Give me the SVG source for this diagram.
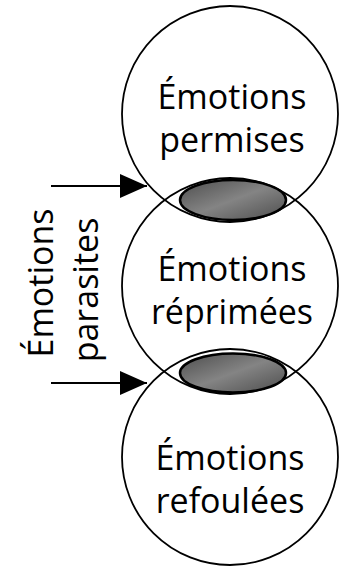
<svg xmlns="http://www.w3.org/2000/svg" width="339" height="567" viewBox="0 0 339 567">
<defs>
<style>
.c{fill:none;stroke:#000;stroke-width:1.8}
.e{fill:url(#g);stroke:#000;stroke-width:2.5}
.t{font-family:"Open Sans","DejaVu Sans",sans-serif;font-size:34px;fill:#000;text-anchor:middle}
.a{stroke:#000;stroke-width:2;fill:none}
</style>
<linearGradient id="g" x1="0" y1="0" x2="1" y2="1">
<stop offset="0" stop-color="#4d4d4d"/>
<stop offset="0.5" stop-color="#848484"/>
<stop offset="1" stop-color="#4d4d4d"/>
</linearGradient>
<marker id="ah" viewBox="0 0 27 24" refX="27" refY="12" markerWidth="27" markerHeight="24" markerUnits="userSpaceOnUse" orient="auto">
<path d="M0,0 L27,12 L0,24 Z" fill="#000"/>
</marker>
</defs>
<rect width="339" height="567" fill="#fff"/>
<g id="permises">
<circle class="c" cx="230" cy="114" r="108"/>
<text class="t" x="232" y="109">Émotions</text>
<text class="t" x="232" y="152">permises</text>
</g>
<g id="reprimees">
<circle class="c" cx="230" cy="286" r="108"/>
<text class="t" x="232" y="281">Émotions</text>
<text class="t" x="232" y="324">réprimées</text>
</g>
<g id="refoulees">
<circle class="c" cx="230" cy="457" r="108"/>
<text class="t" x="230" y="470">Émotions</text>
<text class="t" x="230" y="513">refoulées</text>
</g>
<g id="overlap1">
<ellipse class="e" cx="233" cy="200" rx="53" ry="20"/>
</g>
<g id="overlap2">
<ellipse class="e" cx="233" cy="373" rx="53" ry="19.5"/>
</g>
<g id="parasites">
<text class="t" transform="translate(53,283) rotate(-90)">Émotions</text>
<text class="t" transform="translate(98,290) rotate(-90)">parasites</text>
</g>
<g id="connectors">
<line class="a" x1="51" y1="186" x2="147" y2="186" marker-end="url(#ah)"/>
<line class="a" x1="51" y1="383" x2="147" y2="383" marker-end="url(#ah)"/>
</g>
</svg>
